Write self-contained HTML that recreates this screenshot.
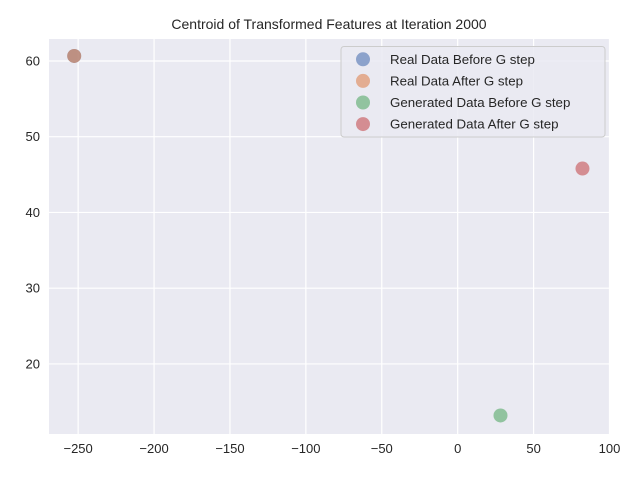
<!DOCTYPE html>
<html><head><meta charset="utf-8"><style>
body{margin:0;background:#fff;}
svg{display:block;font-family:"Liberation Sans","DejaVu Sans",sans-serif;}
</style></head><body>
<svg id="chart" width="640" height="480">
<rect x="49" y="39" width="560.5" height="395" fill="#eaeaf2"/>
<g id="grid"></g>
<g id="ticks"></g>
<g id="points"></g>
<text x="329" y="29" text-anchor="middle" font-size="14" fill="#262626">Centroid of Transformed Features at Iteration 2000</text>
<g id="legend"></g>
</svg>
<script>
const seriesNames=["Real Data Before G step","Real Data After G step","Generated Data Before G step","Generated Data After G step"];
const seriesColors=["#4c72b0","#dd8452","#55a868","#c44e52"];
const xValues=[-252.6,-252.6,28.2,82.2];
const yValues=[60.66,60.66,13.2,45.8];
const xTicks=[-250,-200,-150,-100,-50,0,50,100];
const yTicks=[20,30,40,50,60];
const xMin=-269.2,xMax=100,yMin=10.75,yMax=62.9;
const L=49,R=609.5,T=39,B=434;
const sx=v=>L+(v-xMin)/(xMax-xMin)*(R-L);
const sy=v=>B-(v-yMin)/(yMax-yMin)*(B-T);
const NS="http://www.w3.org/2000/svg";
function mk(tag,attrs,parent){const e=document.createElementNS(NS,tag);for(const k in attrs)e.setAttribute(k,attrs[k]);parent.appendChild(e);return e;}
const grid=document.getElementById('grid'),ticks=document.getElementById('ticks'),pts=document.getElementById('points'),leg=document.getElementById('legend');
xTicks.forEach(t=>{const x=sx(t);
const g=mk('line',{x1:x,x2:x,y1:T,y2:B,stroke:'#fff','stroke-width':1.2},grid);


const lb=mk('text',{x:x,y:B+19,'text-anchor':'middle','font-size':13,fill:'#262626'},ticks);
lb.textContent=(t<0?'\u2212'+(-t):t);

});
yTicks.forEach(t=>{const y=sy(t);
const g=mk('line',{x1:L,x2:R,y1:y,y2:y,stroke:'#fff','stroke-width':1.2},grid);


const lb=mk('text',{x:L-9,y:y+4.5,'text-anchor':'end','font-size':13,fill:'#262626'},ticks);
lb.textContent=t;

});
xValues.forEach((v,i)=>{const c=mk('circle',{cx:sx(v),cy:sy(yValues[i]),r:7,fill:seriesColors[i],'fill-opacity':0.6},pts);

});
const box=mk('rect',{x:341,y:46.5,width:264,height:90.5,rx:3,fill:'#eaeaf2','fill-opacity':0.85,stroke:'#cccccc','stroke-width':1},leg);


seriesNames.forEach((n,i)=>{const y=59.3+i*21.6;
const c=mk('circle',{cx:363,cy:y,r:7,fill:seriesColors[i],'fill-opacity':0.6},leg);


const t=mk('text',{x:390,y:y+4.5,'font-size':13.3,fill:'#262626'},leg);
t.textContent=n;

});
</script>
</body></html>
